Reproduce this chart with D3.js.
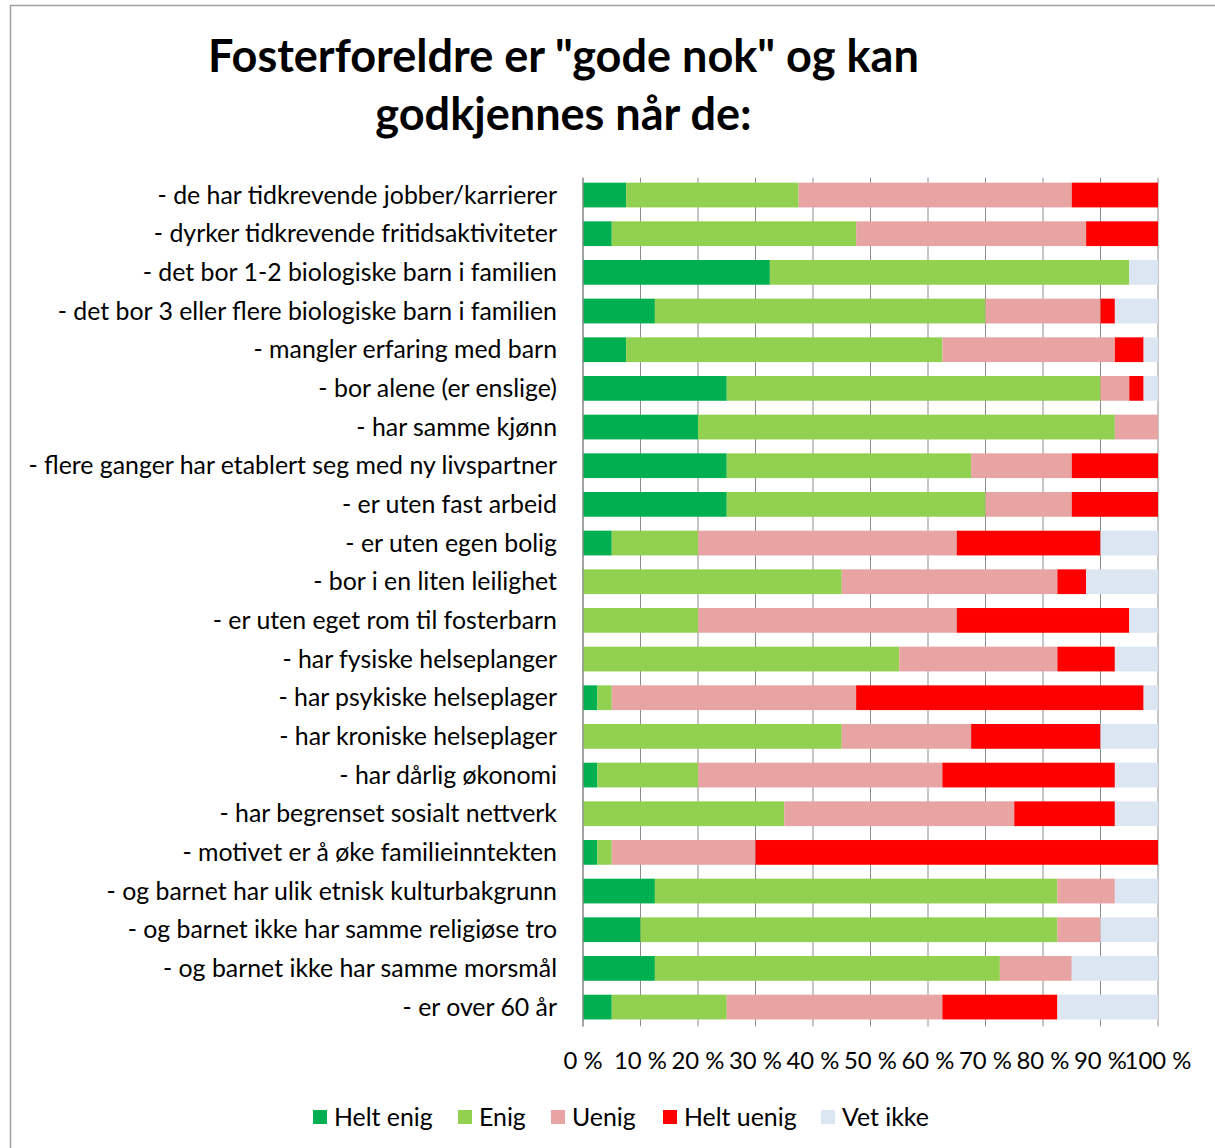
<!DOCTYPE html>
<html><head><meta charset="utf-8">
<script src="https://cdn.jsdelivr.net/npm/d3@7"></script>
<style>body{margin:0;background:#fff}svg{display:block}text{font-family:Lato,"Open Sans",sans-serif;fill:#000}</style>
</head><body>
<script>
const titleLines = ['Fosterforeldre er "gode nok" og kan', 'godkjennes når de:'];
const categories = [
  "- de har tidkrevende jobber/karrierer",
  "- dyrker tidkrevende fritidsaktiviteter",
  "- det bor 1-2 biologiske barn i familien",
  "- det bor 3 eller flere biologiske barn i familien",
  "- mangler erfaring med barn",
  "- bor alene (er enslige)",
  "- har samme kjønn",
  "- flere ganger har etablert seg med ny livspartner",
  "- er uten fast arbeid",
  "- er uten egen bolig",
  "- bor i en liten leilighet",
  "- er uten eget rom til fosterbarn",
  "- har fysiske helseplanger",
  "- har psykiske helseplager",
  "- har kroniske helseplager",
  "- har dårlig økonomi",
  "- har begrenset sosialt nettverk",
  "- motivet er å øke familieinntekten",
  "- og barnet har ulik etnisk kulturbakgrunn",
  "- og barnet ikke har samme religiøse tro",
  "- og barnet ikke har samme morsmål",
  "- er over 60 år"
];
const seriesNames = ["Helt enig", "Enig", "Uenig", "Helt uenig", "Vet ikke"];
const seriesColors = ["#00B050", "#92D050", "#E8A4A3", "#FF0000", "#DCE6F2"];
const heltEnig  = [7.5, 5, 32.5, 12.5, 7.5, 25, 20, 25, 25, 5, 0, 0, 0, 2.5, 0, 2.5, 0, 2.5, 12.5, 10, 12.5, 5];
const enig      = [30, 42.5, 62.5, 57.5, 55, 65, 72.5, 42.5, 45, 15, 45, 20, 55, 2.5, 45, 17.5, 35, 2.5, 70, 72.5, 60, 20];
const uenig     = [47.5, 40, 0, 20, 30, 5, 7.5, 17.5, 15, 45, 37.5, 45, 27.5, 42.5, 22.5, 42.5, 40, 25, 10, 7.5, 12.5, 37.5];
const heltUenig = [15, 12.5, 0, 2.5, 5, 2.5, 0, 15, 15, 25, 5, 30, 10, 50, 22.5, 30, 17.5, 70, 0, 0, 0, 20];
const vetIkke   = [0, 0, 5, 7.5, 2.5, 2.5, 0, 0, 0, 10, 12.5, 5, 7.5, 2.5, 10, 7.5, 7.5, 0, 7.5, 10, 15, 17.5];
const tickValues = [0, 10, 20, 30, 40, 50, 60, 70, 80, 90, 100];

const W = 1215, H = 1148;
const svg = d3.select("body").append("svg").attr("width", W).attr("height", H);

// frame
svg.append("rect").attr("x", 10.5).attr("y", 5.5).attr("width", 1300).attr("height", 1300)
  .attr("fill", "none").attr("stroke", "#a0a0a0").attr("stroke-width", 1.5);

const plot = {left: 583, right: 1158, top: 175.7, bottom: 1026.4};
const x = d3.scaleLinear().domain([0, 100]).range([plot.left, plot.right]);
const y = d3.scaleBand().domain(categories).range([plot.top, plot.bottom]).paddingInner(0.36).paddingOuter(0.18);

// gridlines
svg.append("g").selectAll("line").data(tickValues).join("line")
  .attr("x1", d => x(d)).attr("x2", d => x(d)).attr("y1", plot.top + 2).attr("y2", plot.bottom)
  .attr("stroke", "#8c8c8c").attr("stroke-width", 1);

const series = [heltEnig, enig, uenig, heltUenig, vetIkke];
const rows = categories.map((c, i) => {
  const o = {cat: c};
  seriesNames.forEach((s, k) => o[s] = series[k][i]);
  return o;
});
const stacked = d3.stack().keys(seriesNames)(rows);

svg.append("g").selectAll("g").data(stacked).join("g")
  .attr("fill", (d, i) => seriesColors[i])
  .selectAll("rect").data(d => d).join("rect")
  .attr("x", d => x(d[0])).attr("width", d => x(d[1]) - x(d[0]))
  .attr("y", d => y(d.data.cat)).attr("height", y.bandwidth());

// left axis line
svg.append("line").attr("x1", plot.left).attr("x2", plot.left).attr("y1", plot.top + 2).attr("y2", plot.bottom)
  .attr("stroke", "#8c8c8c").attr("stroke-width", 1.2);

// category labels
const labG = svg.append("g");
const labs = labG.selectAll("text").data(categories).join("text")
  .attr("x", 557).attr("y", d => y(d) + y.bandwidth() / 2).attr("dy", "0.35em")
  .attr("text-anchor", "end").attr("font-size", 22).text(d => d);
// fit font size to reference width of the longest label
const longest = labs.filter(d => d === categories[7]).node();
const lw = longest.getComputedTextLength();
const labSize = 22 * 529 / lw;
labs.attr("font-size", labSize);

// x tick labels
svg.append("g").selectAll("text").data(tickValues).join("text")
  .attr("x", d => x(d)).attr("y", 1069).attr("text-anchor", "middle")
  .attr("font-size", labSize * 0.96).text(d => d + " %");

// title
const tg = svg.append("g");
const t1 = tg.append("text").attr("x", 563.5).attr("y", 72).attr("text-anchor", "middle")
  .attr("font-weight", "bold").attr("font-size", 40).text(titleLines[0]);
const tw = t1.node().getComputedTextLength();
const tSize = 40 * 711 / tw;
t1.attr("font-size", tSize);
tg.append("text").attr("x", 563.5).attr("y", 130).attr("text-anchor", "middle")
  .attr("font-weight", "bold").attr("font-size", tSize).text(titleLines[1]);

// legend
const legX = [313, 458, 551, 663, 821];
const lg = svg.append("g");
seriesNames.forEach((s, i) => {
  lg.append("rect").attr("x", legX[i]).attr("y", 1110).attr("width", 14).attr("height", 14).attr("fill", seriesColors[i]);
  lg.append("text").attr("x", legX[i] + 21).attr("y", 1117).attr("dy", "0.35em")
    .attr("font-size", labSize).text(s);
});
</script>
</body></html>
